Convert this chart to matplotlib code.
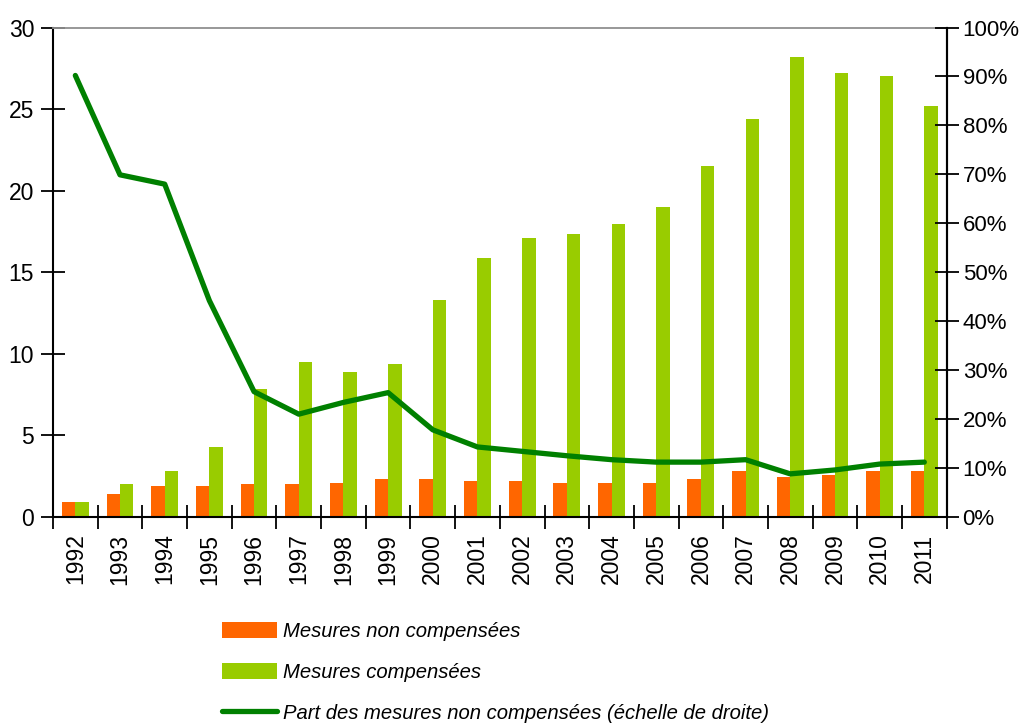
import numpy as np
import matplotlib
matplotlib.use("Agg")
import matplotlib.pyplot as plt
from matplotlib.ticker import FixedLocator, FuncFormatter

plt.rcParams['font.family'] = ['Liberation Sans', 'DejaVu Sans']

years = ["1992", "1993", "1994", "1995", "1996", "1997", "1998", "1999", "2000", "2001",
         "2002", "2003", "2004", "2005", "2006", "2007", "2008", "2009", "2010", "2011"]
non_comp = [0.9, 1.4, 1.9, 1.9, 2.0, 2.0, 2.1, 2.3, 2.3, 2.2,
            2.2, 2.1, 2.1, 2.1, 2.3, 2.8, 2.45, 2.6, 2.8, 2.8]
comp = [0.9, 2.0, 2.8, 4.3, 7.85, 9.5, 8.9, 9.4, 13.3, 15.9,
        17.1, 17.35, 17.95, 19.0, 21.5, 24.4, 28.2, 27.2, 27.0, 25.2]
part = [90.2, 69.9, 68.0, 44.2, 25.6, 21.0, 23.4, 25.4, 17.8, 14.3,
        13.4, 12.5, 11.7, 11.2, 11.2, 11.7, 8.8, 9.6, 10.8, 11.2]

orange = "#FF6600"
lime = "#99CC00"
dark_green = "#008000"

fig = plt.figure(figsize=(10.19, 7.24), dpi=100)
ax = fig.add_axes([0.052, 0.286, 0.877, 0.676])

x = np.arange(len(years))
w = 0.3
b1 = ax.bar(x - w / 2, non_comp, width=w, color=orange, label="Mesures non compensées", zorder=2)
b2 = ax.bar(x + w / 2, comp, width=w, color=lime, label="Mesures compensées", zorder=2)

ax.set_ylim(0, 30)
ax.set_xlim(-0.5, len(years) - 0.5)
ax.set_yticks(np.arange(0, 31, 5))
ax.xaxis.set_major_locator(FixedLocator(np.arange(-0.5, len(years), 1)))
ax.xaxis.set_major_formatter(FuncFormatter(lambda v, p: ""))
ax.xaxis.set_minor_locator(FixedLocator(x))
ax.set_xticklabels(years, minor=True, rotation=90, fontsize=16.5)
ax.tick_params(axis="x", which="major", direction="inout", length=17, width=1.3, color="black")
ax.tick_params(axis="x", which="minor", length=0, pad=12)
ax.tick_params(axis="y", direction="inout", length=17, width=1.3, labelsize=16.5, pad=5)

ax.spines["top"].set_color("#909090")
ax.spines["top"].set_linewidth(1.3)
for s in ["left", "bottom", "right"]:
    ax.spines[s].set_linewidth(1.5)
    ax.spines[s].set_color("black")

ax2 = ax.twinx()
ln, = ax2.plot(x, part, color=dark_green, lw=3.8, solid_capstyle="round",
               label="Part des mesures non compensées (échelle de droite)", zorder=3)
ax2.set_ylim(0, 100)
ax2.set_yticks(np.arange(0, 101, 10))
ax2.yaxis.set_major_formatter(FuncFormatter(lambda v, p: f"{int(v)}%"))
ax2.tick_params(axis="y", direction="inout", length=17, width=1.3, labelsize=16, pad=3)
for s in ax2.spines.values():
    s.set_visible(False)
ax2.spines["right"].set_visible(True)
ax2.spines["right"].set_linewidth(1.5)
ax2.spines["right"].set_color("black")

leg = fig.legend(handles=[b1, b2, ln], loc="upper left", bbox_to_anchor=(0.208, 0.155),
                 frameon=False, fontsize=14.6, handlelength=2.72, handleheight=0.87,
                 handletextpad=0.3, labelspacing=1.06, borderpad=0)
for t in leg.get_texts():
    t.set_fontstyle("italic")

fig.savefig("out.png", dpi=100)
